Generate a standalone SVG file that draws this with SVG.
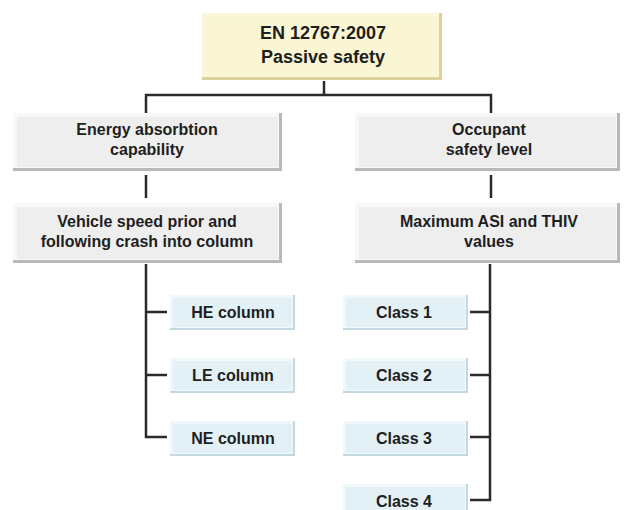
<svg xmlns="http://www.w3.org/2000/svg" width="624" height="510" viewBox="0 0 624 510">
<style>
text{font-family:"Liberation Sans",Arial,sans-serif;font-weight:bold;fill:#1e1e1e;text-anchor:middle}
.t18{font-size:18px}
.t16{font-size:16px}
.yd{fill:#ddd29a}.yl{fill:#fbf7dc}.ym{fill:#faf5d2}
.gd{fill:#b9b9b9}.gl{fill:#f8f8f8}.gm{fill:#eeeeee}
.cd{fill:#c3d8df}.cl{fill:#eff8fb}.cm{fill:#e3f1f6}
.ln{stroke:#2a2a2a;stroke-width:2.5;fill:none}
</style>
<rect width="624" height="510" fill="#ffffff"/>
<g id="connectors">
<path class="ln" d="M324 81 V95 M146 113 V95 H491 V113"/>
<path class="ln" d="M146 175 V198"/>
<path class="ln" d="M491 175 V198"/>
<path class="ln" d="M146 264 V437 H167 M146 312 H167 M146 375 H167"/>
<path class="ln" d="M490 264 V500 H470 M490 312 H470 M490 375 H470 M490 437 H470"/>
</g>
<g id="root">
<rect class="yd" x="202" y="13" width="240" height="67"/>
<rect class="yl" x="202" y="13" width="237" height="64"/>
<rect class="ym" x="206" y="17" width="232" height="59"/>
<text class="t18" x="323" y="39">EN 12767:2007</text>
<text class="t18" x="323" y="63">Passive safety</text>
</g>
<g id="energy">
<rect class="gd" x="13" y="113" width="269" height="58"/>
<rect class="gl" x="13" y="113" width="266" height="55"/>
<rect class="gm" x="17" y="117" width="261" height="50"/>
<text class="t16" x="147" y="135">Energy absorbtion</text>
<text class="t16" x="147" y="155">capability</text>
</g>
<g id="occupant">
<rect class="gd" x="355" y="113" width="265" height="58"/>
<rect class="gl" x="355" y="113" width="262" height="55"/>
<rect class="gm" x="359" y="117" width="257" height="50"/>
<text class="t16" x="489" y="135">Occupant</text>
<text class="t16" x="489" y="155">safety level</text>
</g>
<g id="vehicle">
<rect class="gd" x="13" y="203" width="269" height="60"/>
<rect class="gl" x="13" y="203" width="266" height="57"/>
<rect class="gm" x="17" y="207" width="261" height="52"/>
<text class="t16" x="147" y="227">Vehicle speed prior and</text>
<text class="t16" x="147" y="247">following crash into column</text>
</g>
<g id="maximum">
<rect class="gd" x="355" y="203" width="265" height="60"/>
<rect class="gl" x="355" y="203" width="262" height="57"/>
<rect class="gm" x="359" y="207" width="257" height="52"/>
<text class="t16" x="489" y="227">Maximum ASI and THIV</text>
<text class="t16" x="489" y="247">values</text>
</g>
<g id="he">
<rect class="cd" x="170" y="295" width="125" height="35"/>
<rect class="cl" x="170" y="295" width="123" height="33"/>
<rect class="cm" x="173" y="298" width="119" height="29"/>
<text class="t16" x="233" y="318">HE column</text>
</g>
<g id="le">
<rect class="cd" x="170" y="358" width="125" height="35"/>
<rect class="cl" x="170" y="358" width="123" height="33"/>
<rect class="cm" x="173" y="361" width="119" height="29"/>
<text class="t16" x="233" y="381">LE column</text>
</g>
<g id="ne">
<rect class="cd" x="170" y="421" width="125" height="35"/>
<rect class="cl" x="170" y="421" width="123" height="33"/>
<rect class="cm" x="173" y="424" width="119" height="29"/>
<text class="t16" x="233" y="444">NE column</text>
</g>
<g id="class1">
<rect class="cd" x="343" y="295" width="125" height="35"/>
<rect class="cl" x="343" y="295" width="123" height="33"/>
<rect class="cm" x="346" y="298" width="119" height="29"/>
<text class="t16" x="404" y="318">Class 1</text>
</g>
<g id="class2">
<rect class="cd" x="343" y="358" width="125" height="35"/>
<rect class="cl" x="343" y="358" width="123" height="33"/>
<rect class="cm" x="346" y="361" width="119" height="29"/>
<text class="t16" x="404" y="381">Class 2</text>
</g>
<g id="class3">
<rect class="cd" x="343" y="421" width="125" height="35"/>
<rect class="cl" x="343" y="421" width="123" height="33"/>
<rect class="cm" x="346" y="424" width="119" height="29"/>
<text class="t16" x="404" y="444">Class 3</text>
</g>
<g id="class4">
<rect class="cd" x="343" y="484" width="125" height="35"/>
<rect class="cl" x="343" y="484" width="123" height="33"/>
<rect class="cm" x="346" y="487" width="119" height="29"/>
<text class="t16" x="404" y="507">Class 4</text>
</g>
</svg>
